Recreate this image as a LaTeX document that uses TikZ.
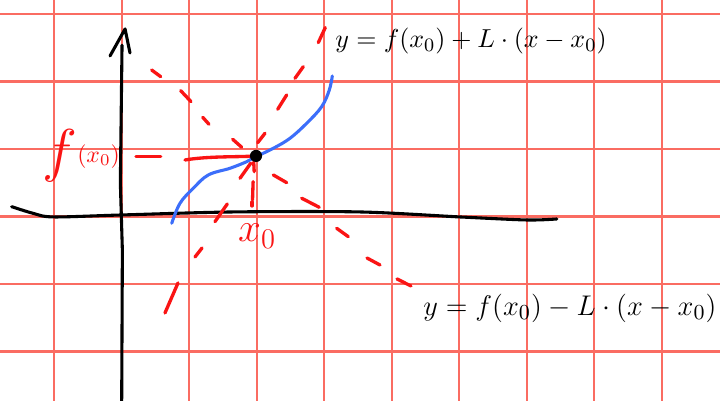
\documentclass[tikz,border=0pt]{standalone}
\definecolor{gridred}{RGB}{250,108,98}
\definecolor{inkred}{RGB}{250,20,20}
\definecolor{curveblue}{RGB}{60,110,250}
\begin{document}
\begin{tikzpicture}[
  line cap=round, line join=round,
  gridline/.style={line width=1pt, gridred},
  axis/.style={line width=1.3pt, black},
  graph/.style={line width=1.3pt, curveblue},
  guide/.style={line width=1.4pt, inkred},
  eqlbl/.style={inner sep=0pt},
]

% ── Parameters (unit = one grid square) ───────────────────────────────────────
\def\xo{1.99}        % x_0
\def\yo{0.90}        % f(x_0)

% ── Paper and grid ────────────────────────────────────────────────────────────
\useasboundingbox (-1.803,-2.730) rectangle (8.864,3.210);
\fill[white] (-1.803,-2.730) rectangle (8.864,3.210);
\draw[gridline] (-1.803,-2.730) grid (8.864,3.210);

% ── Axes (hand drawn) ─────────────────────────────────────────────────────────
\draw[axis] (0,-2.73) -- (0.01,-0.5) -- (-0.02,0.5) -- (0.005,2.54);
\draw[axis] (-0.173,2.381) -- (0.050,2.781) -- (0.123,2.425);   % arrow head
\draw[axis] plot[smooth, tension=0.5] coordinates {
  (-1.630,0.148) (-1.314,0.050) (-1.013,-0.004) (-0.010,0.025) (1.649,0.070)
  (3.530,0.070) (5.011,-0.004) (6.003,-0.049) (6.447,-0.034)};

% ── Function graph ────────────────────────────────────────────────────────────
\draw[graph] plot[smooth, tension=0.6] coordinates {
  (0.741,-0.098) (0.864,0.199) (1.061,0.421) (1.283,0.618) (1.604,0.717)
  (1.852,0.815) (1.990,0.889) (2.246,1.013) (2.493,1.161) (2.741,1.384)
  (2.963,1.630) (3.076,1.877) (3.120,2.084)};

% ── Cone lines through (x_0, f(x_0)), dashed by hand ─────────────────────────
% upper line, slope +L
\foreach \xa/\ya/\xb/\yb in {2.913/2.579/3.016/2.801, 2.567/2.050/2.690/2.222,
    2.311/1.591/2.444/1.803, 2.015/1.096/2.123/1.236, 1.753/0.569/1.911/0.791,
    1.382/-0.074/1.564/0.188, 1.086/-0.597/1.190/-0.464, 0.641/-1.427/0.834/-0.982}
  \draw[guide] (\xa,\ya) -- (\xb,\yb);
% lower line, slope -L
\foreach \xa/\ya/\xb/\yb in {0.444/2.173/0.578/2.074, 0.874/1.867/1.027/1.704,
    1.200/1.473/1.293/1.369, 1.644/1.147/1.778/1.028, 2.246/0.618/2.444/0.504,
    2.667/0.273/2.927/0.139, 3.185/-0.172/3.357/-0.296, 3.634/-0.612/3.827/-0.716,
    4.079/-0.923/4.286/-1.027}
  \draw[guide] (\xa,\ya) -- (\xb,\yb);
% level f(x_0) and foot x_0
\draw[guide] (0.212,0.889) -- (0.578,0.889);
\draw[guide] (0.938,0.840) .. controls (1.300,0.900) and (1.700,0.880) .. (\xo,\yo);
\draw[guide] (1.956,0.810) -- (1.963,0.667);
\draw[guide] (1.947,0.519) -- (1.938,0.247);
\draw[guide] (1.932,0.218) -- (1.932,0.159);

% ── Point (x_0, f(x_0)) ──────────────────────────────────────────────────────
\node[circle, fill=black, inner sep=0pt, minimum size=0.18cm] (p0) at (\xo,\yo) {};

% ── Labels ────────────────────────────────────────────────────────────────────
\node[inkred, font=\normalsize, inner sep=0pt] (fxlbl) at (-0.60,0.90)
  {{\Huge$f$}\raisebox{0.35em}{$(x_0)$}};
\node[inkred, font=\LARGE] (xolbl) at (2.007,-0.29) {$x_0$};
\node[eqlbl, font=\fontsize{11.4}{13}\selectfont] (equp) at (5.176,2.60)
  {$y = f(x_0) + L\cdot(x-x_0)$};
\node[eqlbl, font=\fontsize{12.3}{14}\selectfont] (eqdn) at (6.641,-1.36)
  {$y = f(x_0) - L\cdot(x-x_0)$};

\end{tikzpicture}
\end{document}
